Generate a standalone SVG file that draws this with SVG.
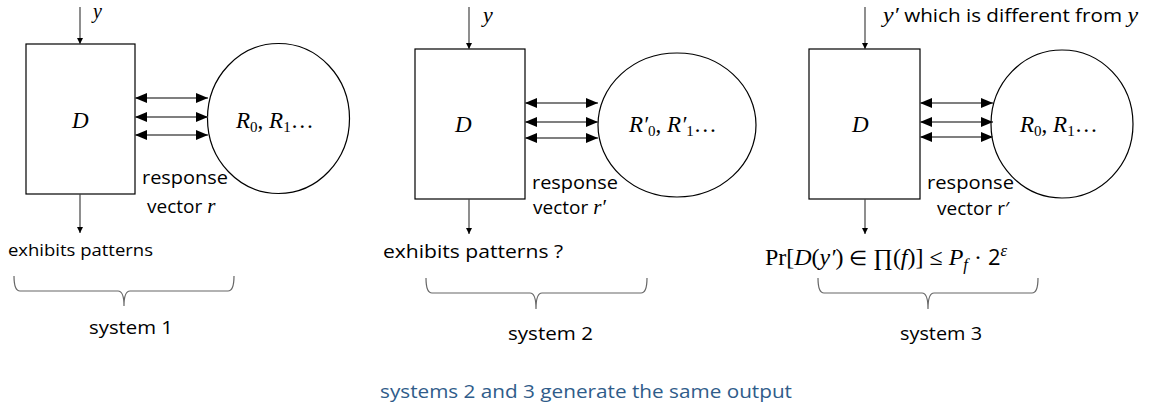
<svg xmlns="http://www.w3.org/2000/svg" width="1151" height="409" viewBox="0 0 1151 409">
<style>
.box{fill:#fff;stroke:#000;stroke-width:1.2}
.ell{fill:#fff;stroke:#000;stroke-width:1.2}
.ln{stroke:#444;stroke-width:1.2;fill:none}
.dl{stroke:#555;stroke-width:1.3;fill:none}
.br{stroke:#666;stroke-width:1.2;fill:none}
.m{font-family:"Liberation Serif",serif;font-style:italic;fill:#000}
.mu{font-family:"Liberation Serif",serif;fill:#000}
.s{font-family:"Open Sans","Noto Sans",sans-serif;fill:#000}
.blue{font-family:"Open Sans","Noto Sans",sans-serif;fill:#2F5C8A}
</style>
<defs>
<marker id="ah" viewBox="0 0 10 10" refX="10" refY="5" markerWidth="6" markerHeight="8" markerUnits="userSpaceOnUse" orient="auto">
<path d="M0,0 L10,5 L0,10 z" fill="#000"/>
</marker>
<marker id="dh" viewBox="0 0 12 10" refX="12" refY="5" markerWidth="12" markerHeight="10" markerUnits="userSpaceOnUse" orient="auto-start-reverse">
<path d="M0,0 L12,5 L0,10 z" fill="#000"/>
</marker>
</defs>

<g id="system1">
<rect class="box" x="26" y="44" width="109" height="150"/>
<text class="m" x="72" y="128" font-size="23">D</text>
<ellipse class="ell" cx="278.5" cy="118.5" rx="71" ry="75"/>
<text class="m" x="236" y="128" font-size="23">R<tspan class="mu" font-style="normal" font-size="15" dy="4">0</tspan><tspan class="mu" font-style="normal" dy="-4">, </tspan>R<tspan class="mu" font-style="normal" font-size="15" dy="4">1</tspan><tspan class="mu" font-style="normal" dy="-4">…</tspan></text>
<text class="m" x="93" y="18" font-size="20">y</text>
<text class="s" x="142" y="184" font-size="19" textLength="86" lengthAdjust="spacingAndGlyphs">response</text>
<text class="s" x="147" y="213" font-size="19">vector <tspan class="m" font-size="21">r</tspan></text>
<text class="s" x="8" y="256" font-size="16" textLength="145" lengthAdjust="spacingAndGlyphs">exhibits patterns</text>
<text class="s" x="89" y="334" font-size="18.5" textLength="84" lengthAdjust="spacingAndGlyphs">system 1</text>
</g>

<g id="system2">
<rect class="box" x="415" y="49" width="110" height="150"/>
<text class="m" x="455" y="132" font-size="23">D</text>
<ellipse class="ell" cx="677" cy="125" rx="79" ry="72"/>
<text class="m" x="629" y="132" font-size="23">R′<tspan class="mu" font-style="normal" font-size="15" dy="4">0</tspan><tspan class="mu" font-style="normal" dy="-4">, </tspan>R′<tspan class="mu" font-style="normal" font-size="15" dy="4">1</tspan><tspan class="mu" font-style="normal" dy="-4">…</tspan></text>
<text class="m" x="483" y="22" font-size="22">y</text>
<text class="s" x="532" y="189" font-size="19" textLength="86" lengthAdjust="spacingAndGlyphs">response</text>
<text class="s" x="533" y="214" font-size="19">vector <tspan class="m" font-size="21">r′</tspan></text>
<text class="s" x="383" y="258" font-size="18.5" textLength="180" lengthAdjust="spacingAndGlyphs">exhibits patterns ?</text>
<text class="s" x="508" y="340" font-size="18.5" textLength="85" lengthAdjust="spacingAndGlyphs">system 2</text>
</g>

<g id="system3">
<rect class="box" x="809" y="49" width="111" height="150"/>
<text class="m" x="852" y="132" font-size="23">D</text>
<ellipse class="ell" cx="1062" cy="124" rx="71" ry="74"/>
<text class="m" x="1020" y="132" font-size="23">R<tspan class="mu" font-style="normal" font-size="15" dy="4">0</tspan><tspan class="mu" font-style="normal" dy="-4">, </tspan>R<tspan class="mu" font-style="normal" font-size="15" dy="4">1</tspan><tspan class="mu" font-style="normal" dy="-4">…</tspan></text>
<text x="883" y="22" font-size="19" textLength="255" lengthAdjust="spacingAndGlyphs"><tspan class="m" font-size="22">y′</tspan><tspan class="s"> which is different from </tspan><tspan class="m" font-size="22">y</tspan></text>
<text class="s" x="927" y="189" font-size="19" textLength="87" lengthAdjust="spacingAndGlyphs">response</text>
<text class="s" x="937" y="215" font-size="19">vector r′</text>
<text class="mu" x="765" y="265" font-size="23" textLength="242" lengthAdjust="spacingAndGlyphs">Pr[<tspan class="m">D</tspan>(<tspan class="m">y′</tspan>) <tspan font-size="20">∈</tspan> ∏(<tspan class="m">f</tspan>)] ≤ <tspan class="m">P</tspan><tspan class="m" font-size="16" dy="5">f</tspan><tspan dy="-5"> · </tspan><tspan class="s" font-size="21">2</tspan><tspan class="m" font-size="16" dy="-9">ε</tspan></text>
<text class="s" x="900" y="340" font-size="18.5" textLength="82" lengthAdjust="spacingAndGlyphs">system 3</text>
</g>

<g id="note">
<text class="blue" x="380" y="398" font-size="19" textLength="412" lengthAdjust="spacingAndGlyphs">systems 2 and 3 generate the same output</text>
</g>

<g id="connectors">
<line class="ln" x1="80" y1="7" x2="80" y2="44" marker-end="url(#ah)"/>
<line class="ln" x1="80" y1="194" x2="80" y2="233" marker-end="url(#ah)"/>
<line class="dl" x1="135" y1="98" x2="208" y2="98" marker-start="url(#dh)" marker-end="url(#dh)"/>
<line class="dl" x1="135" y1="117" x2="208" y2="117" marker-start="url(#dh)" marker-end="url(#dh)"/>
<line class="dl" x1="135" y1="135" x2="208" y2="135" marker-start="url(#dh)" marker-end="url(#dh)"/>

<line class="ln" x1="469" y1="7" x2="469" y2="49" marker-end="url(#ah)"/>
<line class="ln" x1="469" y1="199" x2="469" y2="234" marker-end="url(#ah)"/>
<line class="dl" x1="525" y1="103" x2="598" y2="103" marker-start="url(#dh)" marker-end="url(#dh)"/>
<line class="dl" x1="525" y1="122" x2="598" y2="122" marker-start="url(#dh)" marker-end="url(#dh)"/>
<line class="dl" x1="525" y1="138" x2="598" y2="138" marker-start="url(#dh)" marker-end="url(#dh)"/>

<line class="ln" x1="865" y1="7" x2="865" y2="49" marker-end="url(#ah)"/>
<line class="ln" x1="865" y1="199" x2="865" y2="234" marker-end="url(#ah)"/>
<line class="dl" x1="920" y1="103" x2="993" y2="103" marker-start="url(#dh)" marker-end="url(#dh)"/>
<line class="dl" x1="920" y1="122" x2="993" y2="122" marker-start="url(#dh)" marker-end="url(#dh)"/>
<line class="dl" x1="920" y1="137" x2="993" y2="137" marker-start="url(#dh)" marker-end="url(#dh)"/>

<path class="br" d="M14,276 Q14,291 20,291 L118,291 Q124,291 124,306 Q124,291 130,291 L228,291 Q234,291 234,276"/>
<path class="br" d="M426,278 Q426,293 432,293 L530,293 Q536,293 536,309 Q536,293 542,293 L641,293 Q647,293 647,278"/>
<path class="br" d="M818,278 Q818,293 824,293 L922,293 Q928,293 928,309 Q928,293 934,293 L1032,293 Q1038,293 1038,278"/>
</g>
</svg>
